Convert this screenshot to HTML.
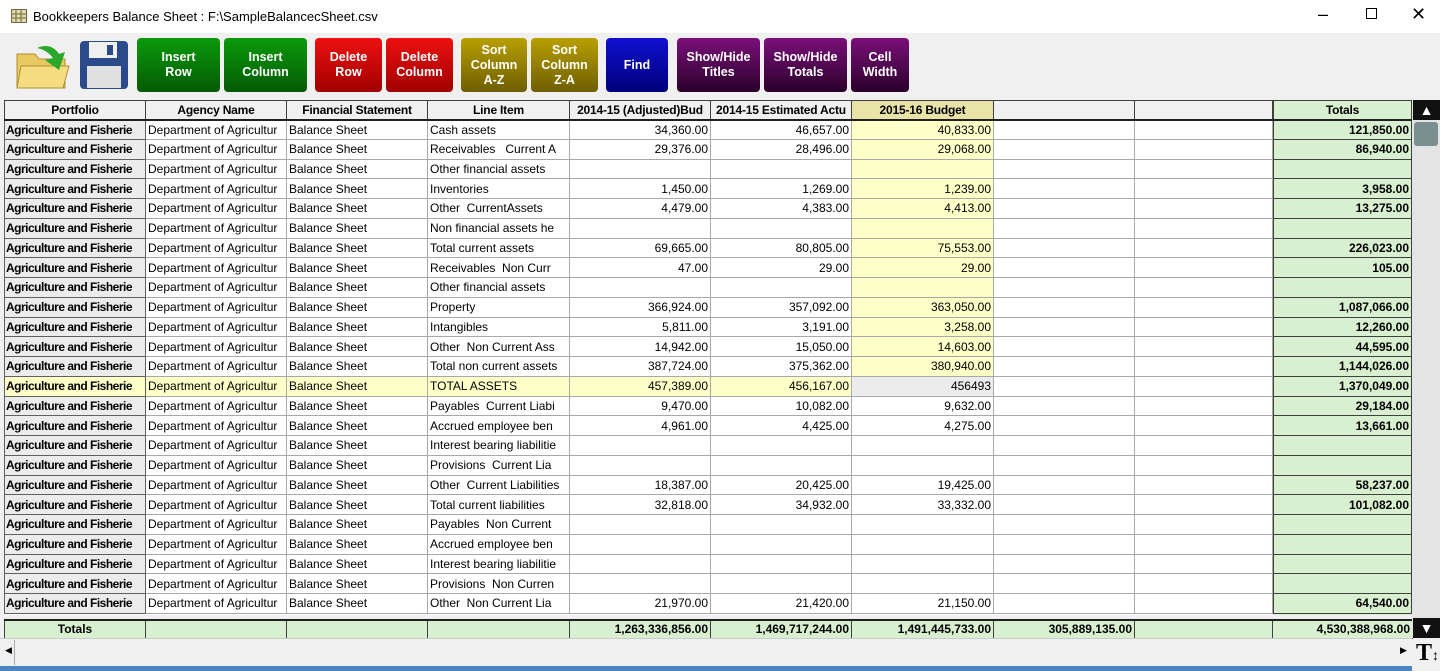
<!DOCTYPE html>
<html><head><meta charset="utf-8"><style>
*{box-sizing:border-box;margin:0;padding:0}
body{width:1440px;height:671px;background:#f0f0f0;font-family:"Liberation Sans",Arial,sans-serif;position:relative;overflow:hidden}
.title{position:absolute;left:0;top:0;width:1440px;height:33px;background:#fff;font-size:13px;color:#000}
.title span{position:absolute;left:33px;top:9px}
.btn{position:absolute;top:38px;height:54px;border-radius:4px;color:#fff;font-weight:bold;font-size:12.5px;display:flex;align-items:center;justify-content:center;text-align:center;line-height:15px}
.g{background:linear-gradient(#0a9a0a,#045a04)}
.r{background:linear-gradient(#ee1010,#a00000)}
.y{background:linear-gradient(#b8a000,#6e5e00)}
.b{background:linear-gradient(#1010d0,#00007a)}
.p{background:linear-gradient(#7a107a,#2a002a)}
table{border-collapse:collapse;table-layout:fixed;position:absolute;font-size:12px}
td{border:1px solid #a8a8a8;height:19.75px;padding:0 2px;white-space:nowrap;overflow:hidden;background:#fff}
th{border:1px solid #404040;border-bottom:2px solid #202020;height:19px;font-weight:bold;font-size:12px;background:#f0f0f0;white-space:nowrap;overflow:hidden;letter-spacing:-0.2px}
td.pf{background:#ececec;font-weight:bold;border-color:#606060;letter-spacing:-0.5px;padding:0 1px}
td.n{text-align:right}
td.bu{background:#ffffc8}
tr.hl td{background:#ffffc8}
tr.hl td.ed{background:#ececec}
#tot td{background:#d8efd0;font-weight:bold;text-align:right;border-color:#404040}
#bot td{background:#d8efd0;font-weight:bold;text-align:right;border:1px solid #404040;height:18px}
</style></head><body>
<div class="title">
<svg style="position:absolute;left:11px;top:9px" width="16" height="14"><rect x="0.5" y="0.5" width="15" height="13" fill="#e8d890" stroke="#666"/><path d="M0 5H16M0 9H16M5 0V14M10 0V14" stroke="#666"/></svg>
<span>Bookkeepers Balance Sheet : F:\SampleBalancecSheet.csv</span>
<span style="left:1318px;top:4px;font-size:18px">&#8211;</span>
<span style="left:1366px;top:8px;width:11px;height:11px;border:1px solid #000"></span>
<span style="left:1411px;top:4px;font-size:18px">&#10005;</span>
</div>
<svg style="position:absolute;left:15px;top:40px" width="56" height="50"><path d="M2 14H20L24 19H50V48H2Z" fill="#e8c860" stroke="#b09030"/><path d="M6 26H54L48 48H2Z" fill="#f4dc80" stroke="#b09030"/><path d="M22 8Q36 2 44 14L50 12L44 30L30 20L38 18Q32 10 22 8Z" fill="#2aa82a"/></svg>
<svg style="position:absolute;left:79px;top:40px" width="50" height="50"><rect x="1" y="1" width="48" height="48" rx="4" fill="#2a4a8a"/><rect x="10" y="2" width="28" height="16" fill="#f0f0f0"/><rect x="28" y="5" width="6" height="10" fill="#2a4a8a"/><rect x="8" y="26" width="34" height="22" fill="#e0e0e0"/></svg>
<div class="btn g" style="left:137px;width:83px">Insert<br>Row</div>
<div class="btn g" style="left:224px;width:83px">Insert<br>Column</div>
<div class="btn r" style="left:315px;width:67px">Delete<br>Row</div>
<div class="btn r" style="left:386px;width:67px">Delete<br>Column</div>
<div class="btn y" style="left:461px;width:66px">Sort<br>Column<br>A-Z</div>
<div class="btn y" style="left:531px;width:67px">Sort<br>Column<br>Z-A</div>
<div class="btn b" style="left:606px;width:62px">Find</div>
<div class="btn p" style="left:677px;width:83px">Show/Hide<br>Titles</div>
<div class="btn p" style="left:764px;width:83px">Show/Hide<br>Totals</div>
<div class="btn p" style="left:851px;width:58px">Cell<br>Width</div>

<div style="position:absolute;left:4px;top:100px;width:1268px;height:515px;background:#fff"></div>
<table style="left:4px;top:100px;width:1268px">
<colgroup><col style="width:141px"><col style="width:141px"><col style="width:141px"><col style="width:142px"><col style="width:141px"><col style="width:141px"><col style="width:142px"><col style="width:141px"><col style="width:138px"></colgroup>
<tr><th>Portfolio</th><th>Agency Name</th><th>Financial Statement</th><th>Line Item</th><th>2014-15 (Adjusted)Bud</th><th>2014-15 Estimated Actu</th><th style="background:#e8e4a8">2015-16 Budget</th><th></th><th></th></tr>
<tr><td class="pf">Agriculture and Fisherie</td><td>Department of Agricultur</td><td>Balance Sheet</td><td>Cash assets</td><td class="n">34,360.00</td><td class="n">46,657.00</td><td class="n bu">40,833.00</td><td></td><td></td></tr>
<tr><td class="pf">Agriculture and Fisherie</td><td>Department of Agricultur</td><td>Balance Sheet</td><td>Receivables &nbsp; Current A</td><td class="n">29,376.00</td><td class="n">28,496.00</td><td class="n bu">29,068.00</td><td></td><td></td></tr>
<tr><td class="pf">Agriculture and Fisherie</td><td>Department of Agricultur</td><td>Balance Sheet</td><td>Other financial assets</td><td></td><td></td><td class="bu"></td><td></td><td></td></tr>
<tr><td class="pf">Agriculture and Fisherie</td><td>Department of Agricultur</td><td>Balance Sheet</td><td>Inventories</td><td class="n">1,450.00</td><td class="n">1,269.00</td><td class="n bu">1,239.00</td><td></td><td></td></tr>
<tr><td class="pf">Agriculture and Fisherie</td><td>Department of Agricultur</td><td>Balance Sheet</td><td>Other &nbsp;CurrentAssets</td><td class="n">4,479.00</td><td class="n">4,383.00</td><td class="n bu">4,413.00</td><td></td><td></td></tr>
<tr><td class="pf">Agriculture and Fisherie</td><td>Department of Agricultur</td><td>Balance Sheet</td><td>Non financial assets he</td><td></td><td></td><td class="bu"></td><td></td><td></td></tr>
<tr><td class="pf">Agriculture and Fisherie</td><td>Department of Agricultur</td><td>Balance Sheet</td><td>Total current assets</td><td class="n">69,665.00</td><td class="n">80,805.00</td><td class="n bu">75,553.00</td><td></td><td></td></tr>
<tr><td class="pf">Agriculture and Fisherie</td><td>Department of Agricultur</td><td>Balance Sheet</td><td>Receivables &nbsp;Non Curr</td><td class="n">47.00</td><td class="n">29.00</td><td class="n bu">29.00</td><td></td><td></td></tr>
<tr><td class="pf">Agriculture and Fisherie</td><td>Department of Agricultur</td><td>Balance Sheet</td><td>Other financial assets</td><td></td><td></td><td class="bu"></td><td></td><td></td></tr>
<tr><td class="pf">Agriculture and Fisherie</td><td>Department of Agricultur</td><td>Balance Sheet</td><td>Property</td><td class="n">366,924.00</td><td class="n">357,092.00</td><td class="n bu">363,050.00</td><td></td><td></td></tr>
<tr><td class="pf">Agriculture and Fisherie</td><td>Department of Agricultur</td><td>Balance Sheet</td><td>Intangibles</td><td class="n">5,811.00</td><td class="n">3,191.00</td><td class="n bu">3,258.00</td><td></td><td></td></tr>
<tr><td class="pf">Agriculture and Fisherie</td><td>Department of Agricultur</td><td>Balance Sheet</td><td>Other &nbsp;Non Current Ass</td><td class="n">14,942.00</td><td class="n">15,050.00</td><td class="n bu">14,603.00</td><td></td><td></td></tr>
<tr><td class="pf">Agriculture and Fisherie</td><td>Department of Agricultur</td><td>Balance Sheet</td><td>Total non current assets</td><td class="n">387,724.00</td><td class="n">375,362.00</td><td class="n bu">380,940.00</td><td></td><td></td></tr>
<tr class="hl"><td class="pf">Agriculture and Fisherie</td><td>Department of Agricultur</td><td>Balance Sheet</td><td>TOTAL ASSETS</td><td class="n">457,389.00</td><td class="n">456,167.00</td><td class="n ed">456493</td><td style="background:#fff"></td><td style="background:#fff"></td></tr>
<tr><td class="pf">Agriculture and Fisherie</td><td>Department of Agricultur</td><td>Balance Sheet</td><td>Payables &nbsp;Current Liabi</td><td class="n">9,470.00</td><td class="n">10,082.00</td><td class="n">9,632.00</td><td></td><td></td></tr>
<tr><td class="pf">Agriculture and Fisherie</td><td>Department of Agricultur</td><td>Balance Sheet</td><td>Accrued employee ben</td><td class="n">4,961.00</td><td class="n">4,425.00</td><td class="n">4,275.00</td><td></td><td></td></tr>
<tr><td class="pf">Agriculture and Fisherie</td><td>Department of Agricultur</td><td>Balance Sheet</td><td>Interest bearing liabilitie</td><td></td><td></td><td></td><td></td><td></td></tr>
<tr><td class="pf">Agriculture and Fisherie</td><td>Department of Agricultur</td><td>Balance Sheet</td><td>Provisions &nbsp;Current Lia</td><td></td><td></td><td></td><td></td><td></td></tr>
<tr><td class="pf">Agriculture and Fisherie</td><td>Department of Agricultur</td><td>Balance Sheet</td><td>Other &nbsp;Current Liabilities</td><td class="n">18,387.00</td><td class="n">20,425.00</td><td class="n">19,425.00</td><td></td><td></td></tr>
<tr><td class="pf">Agriculture and Fisherie</td><td>Department of Agricultur</td><td>Balance Sheet</td><td>Total current liabilities</td><td class="n">32,818.00</td><td class="n">34,932.00</td><td class="n">33,332.00</td><td></td><td></td></tr>
<tr><td class="pf">Agriculture and Fisherie</td><td>Department of Agricultur</td><td>Balance Sheet</td><td>Payables &nbsp;Non Current</td><td></td><td></td><td></td><td></td><td></td></tr>
<tr><td class="pf">Agriculture and Fisherie</td><td>Department of Agricultur</td><td>Balance Sheet</td><td>Accrued employee ben</td><td></td><td></td><td></td><td></td><td></td></tr>
<tr><td class="pf">Agriculture and Fisherie</td><td>Department of Agricultur</td><td>Balance Sheet</td><td>Interest bearing liabilitie</td><td></td><td></td><td></td><td></td><td></td></tr>
<tr><td class="pf">Agriculture and Fisherie</td><td>Department of Agricultur</td><td>Balance Sheet</td><td>Provisions &nbsp;Non Curren</td><td></td><td></td><td></td><td></td><td></td></tr>
<tr><td class="pf">Agriculture and Fisherie</td><td>Department of Agricultur</td><td>Balance Sheet</td><td>Other &nbsp;Non Current Lia</td><td class="n">21,970.00</td><td class="n">21,420.00</td><td class="n">21,150.00</td><td></td><td></td></tr>
</table>

<div style="position:absolute;left:1273px;top:100px;width:139px;height:515px;background:#d8efd0"></div>
<table id="tot" style="left:1273px;top:100px;width:139px">
<tr><th style="background:#d8efd0;font-weight:bold">Totals</th></tr>
<tr><td>121,850.00</td></tr><tr><td>86,940.00</td></tr><tr><td></td></tr><tr><td>3,958.00</td></tr><tr><td>13,275.00</td></tr><tr><td></td></tr><tr><td>226,023.00</td></tr><tr><td>105.00</td></tr><tr><td></td></tr><tr><td>1,087,066.00</td></tr><tr><td>12,260.00</td></tr><tr><td>44,595.00</td></tr><tr><td>1,144,026.00</td></tr><tr><td>1,370,049.00</td></tr><tr><td>29,184.00</td></tr><tr><td>13,661.00</td></tr><tr><td></td></tr><tr><td></td></tr><tr><td>58,237.00</td></tr><tr><td>101,082.00</td></tr><tr><td></td></tr><tr><td></td></tr><tr><td></td></tr><tr><td></td></tr><tr><td>64,540.00</td></tr>
</table>

<table id="bot" style="left:4px;top:619px;width:1408px;border-top:2px solid #202020">
<colgroup><col style="width:141px"><col style="width:141px"><col style="width:141px"><col style="width:142px"><col style="width:141px"><col style="width:141px"><col style="width:142px"><col style="width:141px"><col style="width:138px"><col style="width:140px"></colgroup>
<tr><td style="text-align:center">Totals</td><td></td><td></td><td></td><td>1,263,336,856.00</td><td>1,469,717,244.00</td><td>1,491,445,733.00</td><td>305,889,135.00</td><td></td><td>4,530,388,968.00</td></tr>
</table>

<div style="position:absolute;left:1412px;top:100px;width:28px;height:538px;background:#e4e4e4"></div>
<div style="position:absolute;left:1413px;top:100px;width:27px;height:20px;background:#111;color:#fff;text-align:center;font-size:14px;line-height:20px">&#9650;</div>
<div style="position:absolute;left:1414px;top:122px;width:24px;height:24px;background:#7a9090;border-radius:3px"></div>
<div style="position:absolute;left:1413px;top:618px;width:27px;height:20px;background:#111;color:#fff;text-align:center;font-size:14px;line-height:20px">&#9660;</div>
<div style="position:absolute;left:0;top:638px;width:1412px;height:29px;background:#f0f0f0;border-top:1px solid #ccc"></div>
<div style="position:absolute;left:14px;top:640px;width:1;height:25px;border-left:1px solid #aaa"></div>
<div style="position:absolute;left:5px;top:645px;font-size:9px">&#9664;</div>
<div style="position:absolute;left:1400px;top:645px;font-size:9px">&#9654;</div>
<div style="position:absolute;left:1416px;top:640px;font-family:'Liberation Serif',serif;font-size:24px;font-weight:bold">T<span style="font-size:14px">&#8597;</span></div>
<div style="position:absolute;left:0;top:666px;width:1412px;height:5px;background:#4a86c0"></div>
</body></html>
